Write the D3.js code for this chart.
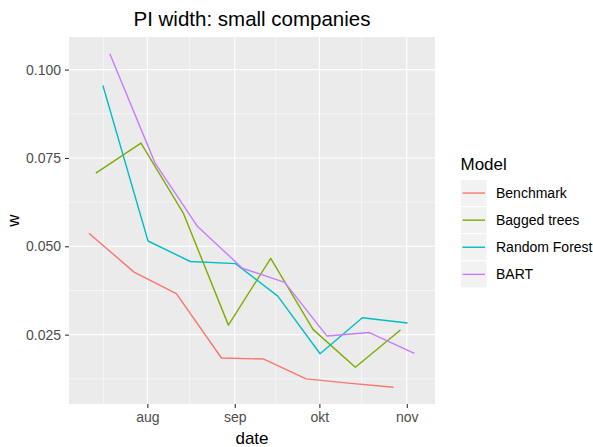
<!DOCTYPE html>
<html>
<head>
<meta charset="utf-8">
<script src="https://cdn.jsdelivr.net/npm/d3@7"></script>
<style>
  html, body { margin: 0; padding: 0; background: #ffffff; }
  svg { display: block; font-family: "Liberation Sans", Arial, sans-serif; }
</style>
</head>
<body>
<svg id="chart" width="593" height="447"></svg>
<script>
// ---------- data ----------
const dates = ["2019-07-15", "2019-07-31", "2019-08-15", "2019-08-31",
               "2019-09-15", "2019-09-30", "2019-10-15", "2019-10-31"];
const models = ["Benchmark", "Bagged trees", "Random Forest", "BART"];
const benchmark    = [0.0537, 0.0427, 0.0366, 0.0184, 0.0181, 0.0125, 0.0113, 0.0101];
const baggedTrees  = [0.0707, 0.0792, 0.0594, 0.0277, 0.0466, 0.0265, 0.0158, 0.0263];
const randomForest = [0.0955, 0.0515, 0.0457, 0.0451, 0.0359, 0.0196, 0.0298, 0.0283];
const bart         = [0.1045, 0.0736, 0.0557, 0.0438, 0.0398, 0.0246, 0.0256, 0.0197];
const seriesValues = [benchmark, baggedTrees, randomForest, bart];
const colors = ["#F8766D", "#7CAE00", "#00BFC4", "#C77CFF"];
const yTicks = [0.025, 0.050, 0.075, 0.100];
const xTickDates = ["2019-08-01", "2019-09-01", "2019-10-01", "2019-11-01"];
const xTickLabels = ["aug", "sep", "okt", "nov"];
const xMinorDates = ["2019-07-16T12:00", "2019-08-16", "2019-09-15T12:00", "2019-10-16"];
const xDomain = ["2019-07-04T05:30", "2019-11-11T00:00"];
const dodgeDays = 2.47;   // horizontal dodge between models
const title = "PI width: small companies";
const xTitle = "date";
const yTitle = "w";
const legendTitle = "Model";

// ---------- layout ----------
const svg = d3.select("#chart");
const panel = { left: 69, top: 37, right: 435, bottom: 404 };
const parse = d3.timeParse("%Y-%m-%d");
const parseT = s => s.includes("T") ? d3.timeParse("%Y-%m-%dT%H:%M")(s) : parse(s);

const x = d3.scaleTime()
  .domain(xDomain.map(parseT))
  .range([panel.left, panel.right]);

const allVals = seriesValues.flat();
const [vmin, vmax] = d3.extent(allVals);
const pad = (vmax - vmin) * 0.05;
const y = d3.scaleLinear()
  .domain([vmin - pad, vmax + pad])
  .range([panel.bottom, panel.top]);

const dodge = d3.scalePoint().domain(models).range([-1.5 * dodgeDays, 1.5 * dodgeDays]);

// panel background
svg.append("rect")
  .attr("x", panel.left).attr("y", panel.top)
  .attr("width", panel.right - panel.left).attr("height", panel.bottom - panel.top)
  .attr("fill", "#EBEBEB");

const grid = svg.append("g");
// minor y grid
const yMinor = [];
for (let i = 0; i < yTicks.length + 1; i++) {
  const v = (i === 0 ? yTicks[0] - 0.0125 : yTicks[i - 1] + 0.0125);
  if (v > y.domain()[0] && v < y.domain()[1]) yMinor.push(v);
}
grid.selectAll(".ymin").data(yMinor).enter().append("line")
  .attr("x1", panel.left).attr("x2", panel.right)
  .attr("y1", d => y(d)).attr("y2", d => y(d))
  .attr("stroke", "#ffffff").attr("stroke-width", 0.55);
grid.selectAll(".xmin").data(xMinorDates.map(parseT)).enter().append("line")
  .attr("y1", panel.top).attr("y2", panel.bottom)
  .attr("x1", d => x(d)).attr("x2", d => x(d))
  .attr("stroke", "#ffffff").attr("stroke-width", 0.55);
// major grid
grid.selectAll(".ymaj").data(yTicks).enter().append("line")
  .attr("x1", panel.left).attr("x2", panel.right)
  .attr("y1", d => y(d)).attr("y2", d => y(d))
  .attr("stroke", "#ffffff").attr("stroke-width", 1.1);
grid.selectAll(".xmaj").data(xTickDates.map(parse)).enter().append("line")
  .attr("y1", panel.top).attr("y2", panel.bottom)
  .attr("x1", d => x(d)).attr("x2", d => x(d))
  .attr("stroke", "#ffffff").attr("stroke-width", 1.1);

// lines
const line = d3.line().x(d => x(d.date)).y(d => y(d.v));
models.forEach((m, i) => {
  const pts = dates.map((ds, j) => ({
    date: d3.timeHour.offset(parse(ds), Math.round(dodge(m) * 24)),
    v: seriesValues[i][j]
  }));
  svg.append("path")
    .datum(pts)
    .attr("d", line)
    .attr("fill", "none")
    .attr("stroke", colors[i])
    .attr("stroke-width", 1.4)
    .attr("stroke-linejoin", "round");
});

// axes
const xAxis = d3.axisBottom(x)
  .tickValues(xTickDates.map(parse))
  .tickFormat((d, i) => xTickLabels[i])
  .tickSize(4).tickPadding(4);
const gx = svg.append("g").attr("transform", `translate(0,${panel.bottom})`).call(xAxis);
gx.select(".domain").remove();
gx.selectAll(".tick line").attr("stroke", "#333333").attr("stroke-width", 1.1);
gx.selectAll(".tick text").attr("fill", "#4D4D4D").attr("font-size", 14)
  .attr("font-family", "Liberation Sans, Arial, sans-serif");

const yAxis = d3.axisLeft(y)
  .tickValues(yTicks)
  .tickFormat(d3.format(".3f"))
  .tickSize(4).tickPadding(4);
const gy = svg.append("g").attr("transform", `translate(${panel.left},0)`).call(yAxis);
gy.select(".domain").remove();
gy.selectAll(".tick line").attr("stroke", "#333333").attr("stroke-width", 1.1);
gy.selectAll(".tick text").attr("fill", "#4D4D4D").attr("font-size", 14)
  .attr("font-family", "Liberation Sans, Arial, sans-serif");

// titles
svg.append("text")
  .attr("x", (panel.left + panel.right) / 2).attr("y", 26)
  .attr("text-anchor", "middle").attr("font-size", 20.5).attr("fill", "#000")
  .text(title);
svg.append("text")
  .attr("x", (panel.left + panel.right) / 2).attr("y", 444)
  .attr("text-anchor", "middle").attr("font-size", 17).attr("fill", "#000")
  .text(xTitle);
svg.append("text")
  .attr("transform", `translate(19,${(panel.top + panel.bottom) / 2}) rotate(-90)`)
  .attr("text-anchor", "middle").attr("font-size", 17).attr("fill", "#000")
  .text(yTitle);

// legend
const leg = svg.append("g").attr("transform", "translate(460.5,0)");
leg.append("text").attr("x", 0).attr("y", 170)
  .attr("font-size", 17).attr("fill", "#000").text(legendTitle);
const rowH = 27.1, firstRow = 179.5;
models.forEach((m, i) => {
  const g = leg.append("g").attr("transform", `translate(0,${firstRow + i * rowH})`);
  g.append("rect").attr("x", 0).attr("y", 0).attr("width", 26.5).attr("height", rowH)
    .attr("fill", "#F2F2F2").attr("stroke", "#ffffff").attr("stroke-width", 1);
  g.append("line").attr("x1", 2).attr("x2", 24.5)
    .attr("y1", rowH / 2).attr("y2", rowH / 2)
    .attr("stroke", colors[i]).attr("stroke-width", 1.4);
  g.append("text").attr("x", 35.5).attr("y", rowH / 2 + 5)
    .attr("font-size", 14).attr("fill", "#000").text(m);
});
</script>
</body>
</html>
